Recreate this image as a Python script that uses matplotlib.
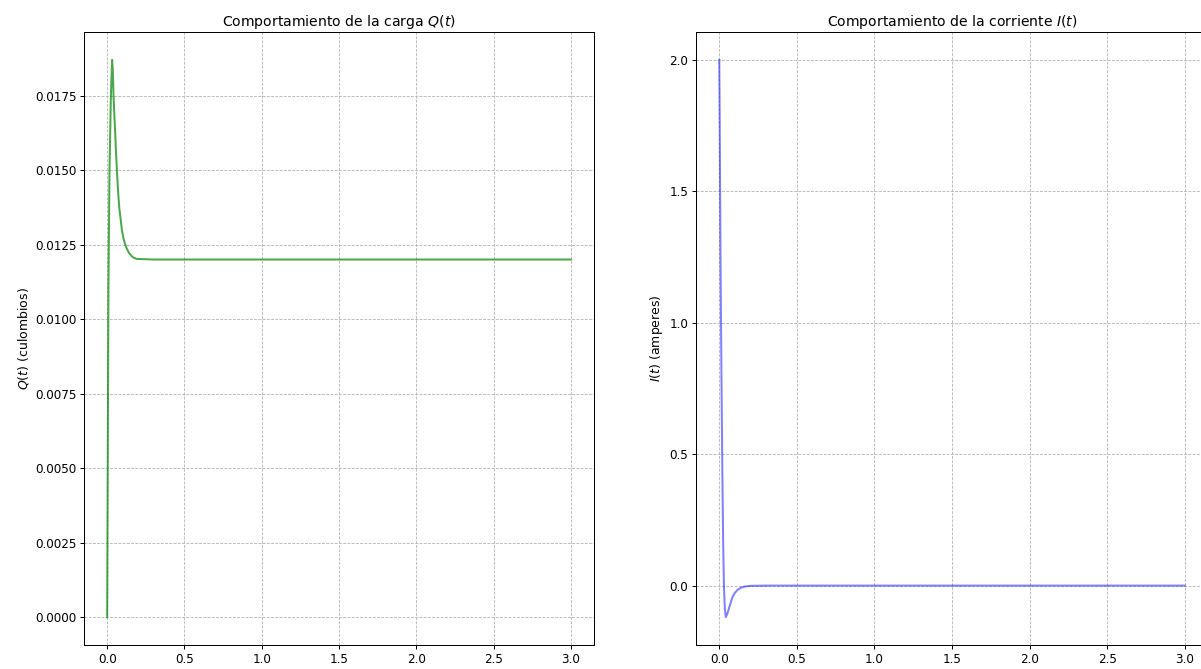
import numpy as np
import matplotlib.pyplot as plt

# valores
t_q = [0.0, 0.008, 0.015, 0.024, 0.032, 0.036, 0.041, 0.046, 0.052, 0.057, 0.063,
       0.068, 0.073, 0.079, 0.085, 0.095, 0.105, 0.117, 0.130, 0.144, 0.165, 0.19,
       0.3, 1.0, 2.0, 3.0]
q = [0.0, 0.0110, 0.0150, 0.0175, 0.0187, 0.0184, 0.0175, 0.0169, 0.01625, 0.0156,
     0.0150, 0.0145, 0.0141, 0.0137, 0.01345, 0.0130, 0.01272, 0.0125, 0.01233,
     0.0122, 0.01208, 0.01202, 0.0120, 0.0120, 0.0120, 0.0120]

t_i = [0.0, 0.003, 0.008, 0.014, 0.020, 0.025, 0.030, 0.036, 0.042, 0.050, 0.057,
       0.064, 0.075, 0.085, 0.100, 0.118, 0.140, 0.160, 0.200, 0.300, 1.0, 2.0, 3.0]
i = [2.0, 1.75, 1.25, 0.80, 0.42, 0.17, 0.0, -0.09, -0.12, -0.11, -0.097,
     -0.083, -0.062, -0.044, -0.028, -0.016, -0.008, -0.004, -0.001, 0.0, 0.0,
     0.0, 0.0]

fig = plt.figure(figsize=(1201 / 72, 669 / 72), dpi=72)
ax1 = fig.add_axes([84 / 1201, 24 / 669, 510 / 1201, 613 / 669])
ax2 = fig.add_axes([696 / 1201, 24 / 669, 512 / 1201, 613 / 669])

ax1.plot(t_q, q, color="green", alpha=0.7, lw=2)
ax1.set_title("Comportamiento de la carga $Q(t)$", fontsize=14)
ax1.set_ylabel("$Q(t)$ (culombios)", fontsize=12.5)
ax1.grid(True, linestyle="--")
ax1.set_yticks(np.arange(0, 0.0176, 0.0025))
ax1.set_xlim(-0.15, 3.15)
ax1.set_ylim(-0.000935, 0.019635)

ax2.plot(t_i, i, color="blue", alpha=0.5, lw=2)
ax2.set_title("Comportamiento de la corriente $I(t)$", fontsize=14)
ax2.set_ylabel("$I(t)$ (amperes)", fontsize=12.5)
ax2.grid(True, linestyle="--")
ax2.set_xlim(-0.15, 3.15)
ax2.set_ylim(-0.226, 2.106)

for ax in (ax1, ax2):
    ax.tick_params(labelsize=12, length=4.2, width=1)
    for s in ax.spines.values():
        s.set_linewidth(1)

plt.savefig("out.png", dpi=72)
